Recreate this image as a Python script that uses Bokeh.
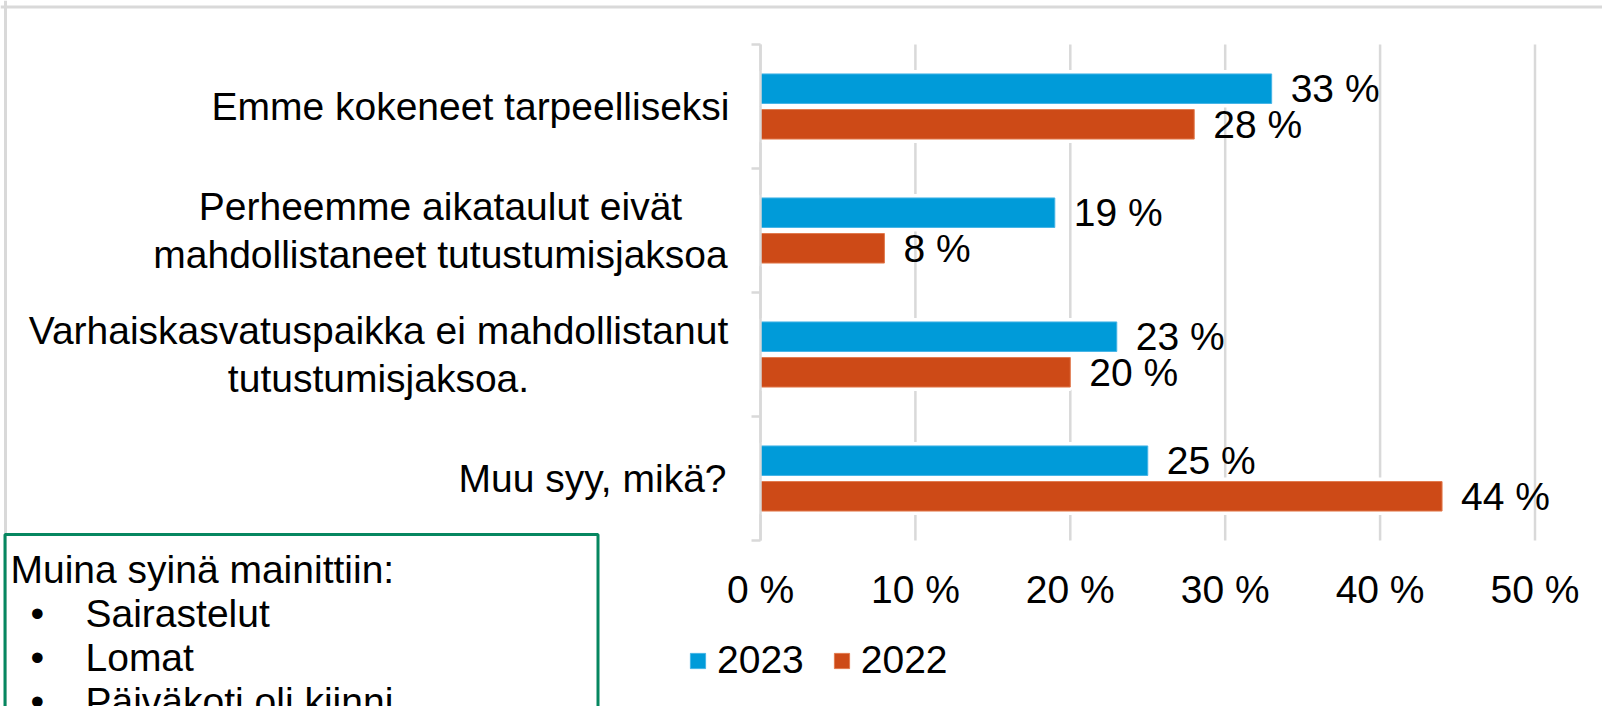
from bokeh.plotting import figure
from bokeh.models import (ColumnDataSource, FixedTicker, Range1d, Legend, LegendItem,
                          Label, BoxAnnotation, LinearAxis, Span)
from bokeh.embed import file_html
from bokeh.resources import INLINE
from bokeh.core.properties import value

# ---------------- data ----------------
categories = [
    "Emme kokeneet tarpeelliseksi",
    "Perheemme aikataulut eivät\nmahdollistaneet tutustumisjaksoa",
    "Varhaiskasvatuspaikka ei mahdollistanut\ntutustumisjaksoa.",
    "Muu syy, mikä?",
]
series_names = ["2023", "2022"]
values_2023 = [33, 19, 23, 25]
values_2022 = [28, 8, 20, 44]
x_ticks = [0, 10, 20, 30, 40, 50]
x_tick_labels = ["0 %", "10 %", "20 %", "30 %", "40 %", "50 %"]
note_title = "Muina syinä mainittiin:"
note_items = ["Sairastelut", "Lomat", "Päiväkoti oli kiinni"]

# ---------------- layout / style ----------------
W, H = 1602, 706
X0_PX = 760.0          # pixel of 0 %
PX_X = 15.49           # pixels per 1 %
Y0_PX = 540.0          # pixel of the bottom of the category area
PX_Y = 124.0           # pixels per category band
N = len(categories)

def xd(sx):
    return (sx - X0_PX) / PX_X

def yd(sy):
    return (Y0_PX - sy) / PX_Y

FONT = "Liberation Sans"
FS = "39px"
BLUE, BLUE_EDGE = "#009BD9", "#45B4E6"
ORANGE, ORANGE_EDGE = "#CD4A17", "#E27A4E"
GRID = "#d9d9d9"
NOTE_GREEN = "#068760"
BAR_H = 0.238
OFF = 0.1435
cat_label_cx = [470, 440, 378, 592]   # horizontal centres of category label blocks (px)

centers = [N - 0.5 - i for i in range(N)]
src23 = ColumnDataSource(dict(y=[c + OFF for c in centers], v=values_2023,
                              lab=[f"{v} %" for v in values_2023]))
src22 = ColumnDataSource(dict(y=[c - OFF for c in centers], v=values_2022,
                              lab=[f"{v} %" for v in values_2022]))
src_cat = ColumnDataSource(dict(y=centers, x=[xd(c) for c in cat_label_cx], t=categories))
src_grid = ColumnDataSource(dict(x=x_ticks, y0=[0] * len(x_ticks), y1=[N] * len(x_ticks)))

p = figure(width=W, height=H, output_backend="svg", toolbar_location=None,
           x_range=Range1d(xd(0), xd(W)), y_range=Range1d(yd(H), yd(0)), title=None,
           x_axis_location=None, y_axis_location=None,
           min_border=0, min_border_left=0, min_border_right=0,
           min_border_top=0, min_border_bottom=0)
p.outline_line_color = None
p.background_fill_color = "white"
p.border_fill_color = "white"
p.xgrid.visible = False
p.ygrid.visible = False

# page frame (top and left edges)
p.add_layout(Span(location=yd(6.5), dimension="width", line_color=GRID, line_width=3))
p.add_layout(Span(location=xd(5), dimension="height", line_color=GRID, line_width=3))

# gridlines
p.segment(x0="x", y0="y0", x1="x", y1="y1", source=src_grid,
          line_color=GRID, line_width=2.5)

# white halos behind bars (gridlines break around bars)
for s in (src23, src22):
    p.hbar(y="y", right="v", left=0, height=BAR_H, source=s,
           fill_color="white", line_color="white", line_width=8)

b23 = p.hbar(y="y", right="v", left=0, height=BAR_H, source=src23,
             fill_color=BLUE, line_color=BLUE_EDGE, line_width=1)
b22 = p.hbar(y="y", right="v", left=0, height=BAR_H, source=src22,
             fill_color=ORANGE, line_color=ORANGE_EDGE, line_width=1)

for s in (src23, src22):
    p.text(x="v", y="y", text="lab", source=s, x_offset=19,
           text_baseline="middle", text_align="left",
           text_font=value(FONT), text_font_size=FS, text_color="black")

# category labels (multi-line, centred lines)
p.text(x="x", y="y", text="t", source=src_cat, text_align="center",
       text_baseline="middle", text_font=value(FONT), text_font_size=FS,
       text_color="black", text_line_height=1.12)

# y axis: line with ticks at category boundaries
ya = LinearAxis(fixed_location=0, bounds=(0, N),
                ticker=FixedTicker(ticks=list(range(N + 1))))
ya.axis_line_color = GRID
ya.axis_line_width = 2.5
ya.major_tick_line_color = GRID
ya.major_tick_line_width = 2.5
ya.major_tick_out = 9
ya.major_tick_in = 0
ya.minor_tick_line_color = None
ya.major_label_text_color = None
ya.major_label_text_font_size = "1px"
p.add_layout(ya, "left")

# x axis (labels only)
xa = LinearAxis(fixed_location=0, ticker=FixedTicker(ticks=x_ticks))
xa.major_label_overrides = {t: l for t, l in zip(x_ticks, x_tick_labels)}
xa.axis_line_color = None
xa.major_tick_line_color = None
xa.minor_tick_line_color = None
xa.major_tick_out = 0
xa.major_tick_in = 0
xa.major_label_standoff = 27
xa.major_label_text_font = FONT
xa.major_label_text_font_size = FS
xa.major_label_text_color = "black"
p.add_layout(xa, "below")

# legend
legend = Legend(items=[LegendItem(label=series_names[0], renderers=[b23]),
                       LegendItem(label=series_names[1], renderers=[b22])],
                location=(688, 24), orientation="horizontal",
                glyph_width=19, glyph_height=19, label_standoff=10, spacing=28,
                label_height=19, padding=0, margin=0, border_line_color=None,
                background_fill_alpha=0, label_text_font=FONT,
                label_text_font_size=FS, label_text_color="black")
p.add_layout(legend, "center")

# note box
p.add_layout(BoxAnnotation(left=xd(4.5), right=xd(597.5), top=yd(534), bottom=yd(760),
                           fill_color=None, fill_alpha=0, line_color=NOTE_GREEN,
                           line_alpha=1.0, line_width=3))
p.add_layout(Label(x=xd(10), y=yd(569), text=note_title, text_font=FONT,
                   text_font_size=FS, text_color="black", text_baseline="middle"))
for i, item in enumerate(note_items):
    cy = 613 + 44 * i
    p.add_layout(Label(x=xd(30), y=yd(cy), text="•", text_font=FONT,
                       text_font_size=FS, text_color="black", text_baseline="middle"))
    p.add_layout(Label(x=xd(85), y=yd(cy), text=item, text_font=FONT,
                       text_font_size=FS, text_color="black", text_baseline="middle"))

open("out.html", "w").write(file_html(p, INLINE))
